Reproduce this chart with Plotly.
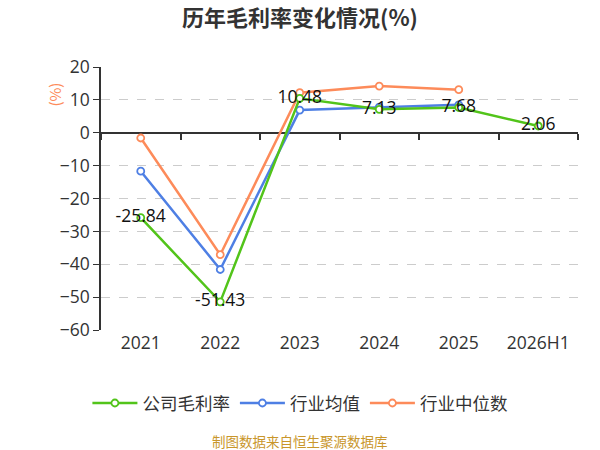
import plotly.graph_objects as go

categories = ["2021", "2022", "2023", "2024", "2025", "2026H1"]
company = [-25.84, -51.43, 10.48, 7.13, 7.68, 2.06]
industry_avg = [-11.7, -41.6, 6.9, 7.8, 8.5, None]
industry_median = [-1.6, -37.1, 12.2, 14.2, 13.1, None]
y_ticks = [20, 10, 0, -10, -20, -30, -40, -50, -60]

FONT = "Noto Sans CJK SC, Noto Sans, sans-serif"
NUMFONT = "Open Sans, Noto Sans CJK SC, sans-serif"
GREEN = "#52c41a"
BLUE = "#4e7fe4"
ORANGE = "#fd8b5a"

fig = go.Figure()

def add_series(name, vals, color, rank, labels=False):
    fig.add_trace(go.Scatter(
        x=categories, y=vals, name=name,
        mode="lines+markers+text" if labels else "lines+markers",
        line=dict(color=color, width=2.5),
        marker=dict(symbol="circle", size=7, color="white", line=dict(color=color, width=1.8)),
        text=[f"{v:.2f}" for v in vals] if labels else None,
        textposition="middle center",
        textfont=dict(size=17.5, color="#111", family=NUMFONT),
        cliponaxis=False,
        legendrank=rank,
    ))

add_series("行业均值", industry_avg, BLUE, 2)
add_series("行业中位数", industry_median, ORANGE, 3)
add_series("公司毛利率", company, GREEN, 1, labels=True)

# invisible trace for the zero-axis tick overlay
fig.add_trace(go.Scatter(x=categories, y=[None]*len(categories), xaxis="x2",
                         showlegend=False, hoverinfo="skip"))

fig.update_layout(
    width=600, height=450,
    margin=dict(l=101, r=22, t=67, b=120, autoexpand=False),
    paper_bgcolor="white", plot_bgcolor="white",
    font=dict(family=FONT, color="#333"),
    title=dict(text="<b>历年毛利率变化情况(%)</b>", x=0.5, xanchor="center",
               y=0.96, yanchor="middle", font=dict(size=22, color="#333")),
    showlegend=True,
    legend=dict(orientation="h", x=0.417, xanchor="center",
                y=-0.278, yanchor="middle",
                font=dict(size=17.5, color="#333"), itemwidth=45),
    xaxis=dict(type="category", categoryorder="array", categoryarray=categories,
               showline=False, showgrid=False, ticks="", zeroline=False,
               tickfont=dict(size=17.5, color="#333", family=NUMFONT), range=[-0.5, 5.5]),
    xaxis2=dict(type="category", categoryorder="array", categoryarray=categories,
                overlaying="x", matches="x", anchor="free", position=0.75,
                showline=False, showgrid=False, ticks="outside", ticklen=6,
                tickcolor="#333", tickwidth=1.5, tickson="boundaries",
                showticklabels=False, zeroline=False),
    yaxis=dict(range=[-60, 20], tickvals=y_ticks, showline=True, linecolor="#333",
               linewidth=1.5, ticks="outside", ticklen=6, tickcolor="#333",
               tickfont=dict(size=17.5, color="#333", family=NUMFONT),
               showgrid=True, gridcolor="#cccccc", griddash="dash", gridwidth=1,
               zeroline=True, zerolinecolor="#333", zerolinewidth=1.5),
)

fig.add_annotation(text="(%)", xref="paper", yref="paper", x=-0.097, y=0.894,
                   xanchor="center", yanchor="middle",
                   showarrow=False, textangle=-90, font=dict(size=15, color=ORANGE))
fig.add_annotation(text="制图数据来自恒生聚源数据库", xref="paper", yref="paper",
                   x=0.417, y=-0.422, xanchor="center", yanchor="middle", showarrow=False,
                   font=dict(size=13.5, color="#c9962b"))

fig.write_html("out.html", config={"displayModeBar": False},
               post_script="document.body.style.margin='0';")
